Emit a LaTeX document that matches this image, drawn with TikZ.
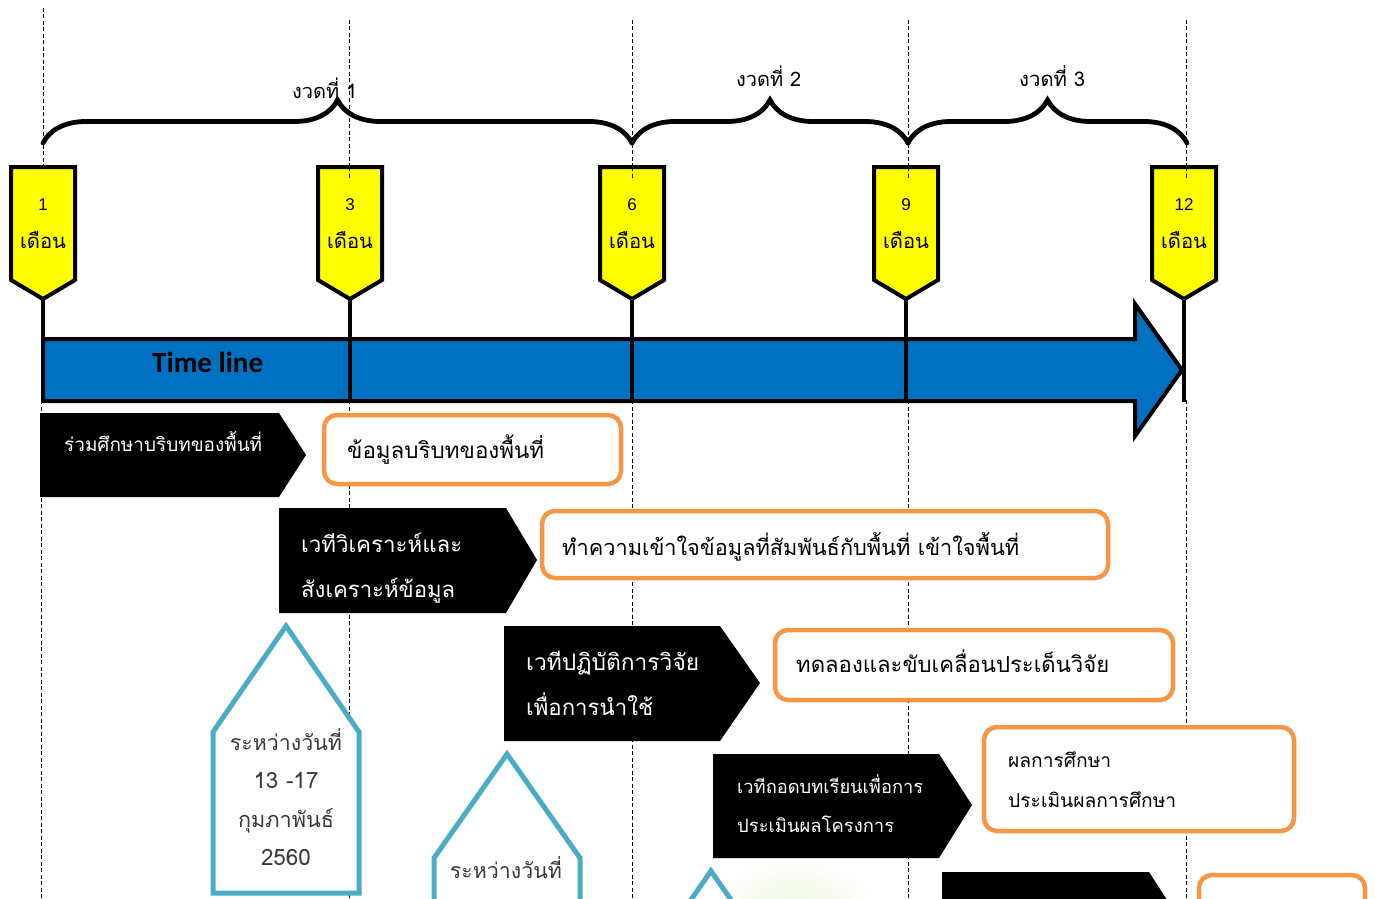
\documentclass[tikz,border=0pt]{standalone}
\usepackage{fontspec}
\usepackage{graphicx}
\setmainfont{Liberation Sans}
\newfontfamily\thai[Script=Thai]{Loma}
\newfontfamily\calib{Carlito}
\usetikzlibrary{decorations.pathreplacing}
\definecolor{tlblue}{HTML}{0070C0}
\definecolor{mkyellow}{HTML}{FFFF00}
\definecolor{boxorange}{HTML}{F79646}
\definecolor{pentblue}{HTML}{4BACC6}
\definecolor{penttext}{HTML}{3A3A3A}
\definecolor{leafgreen}{HTML}{EEF6DC}
% name, coordinate, width, text, colour, anchor
\newcommand\txt[6]{\node[anchor=#6, inner sep=0pt, text=#5] (#1) at (#2) {\resizebox{#3pt}{!}{\thai #4}};}
\newcommand\mkr[3]{%
  \draw[mkbox] (#1-32,167) -- (#1+32,167) -- (#1+32,280) -- (#1,299) -- (#1-32,280) -- cycle;
  \coordinate (#3tip) at (#1,299);
  \node[anchor=base, inner sep=0pt, font=\fontsize{17}{17}\selectfont] (#3num) at (#1,210) {#2};
  \node[anchor=base, inner sep=0pt] (#3lab) at (#1,248) {\resizebox{46pt}{!}{\thai เดือน}};}
\begin{document}
\begin{tikzpicture}[x=1pt,y=-1pt,
  dsh/.style={black, line width=1pt, dash pattern=on 4pt off 2.5pt},
  brc/.style={decorate, decoration={brace, amplitude=43pt}, line width=4.8pt, line cap=round},
  mkbox/.style={draw=black, line width=4pt, fill=mkyellow, line join=miter},
  vline/.style={black, line width=4.5pt},
  chev/.style={fill=black},
  obox/.style={draw=boxorange, line width=4.5pt, fill=white, rounded corners=13pt},
  pent/.style={draw=pentblue, line width=5pt, fill=white, line join=miter}]
\useasboundingbox (0,0) rectangle (1379,899);
\clip (0,0) rectangle (1379,899);
\fill[white] (0,0) rectangle (1379,899);
% faint background picture
\shade[inner color=leafgreen, outer color=white] (795,915) ellipse (85pt and 60pt);
% dashed guide lines
\draw[dsh] (43,8) -- (43,180);
\draw[dsh] (41,400) -- (41,899);
\foreach \x in {349,632,908,1186} {
  \draw[dsh] (\x,20) -- (\x,180);
  \draw[dsh] (\x,400) -- (\x,899);}
% braces
\draw[brc] (43,143) -- (632,143);
\draw[brc] (632,143) -- (908,143);
\draw[brc] (908,143) -- (1187,143);
\txt{g1}{292,98}{65}{งวดที่ 1}{black}{base west}
\txt{g2}{736,86}{65}{งวดที่ 2}{black}{base west}
\txt{g3}{1019,87}{66}{งวดที่ 3}{black}{base west}
% time line arrow
\draw[line width=4pt, fill=tlblue, line join=miter] (43,339) -- (1135,339) -- (1135,304) -- (1182,370) -- (1135,436) -- (1135,401) -- (43,401) -- cycle;
\node[anchor=base west, inner sep=0pt] (tl) at (152,372) {\resizebox{111pt}{!}{\calib\bfseries Time line}};
% markers
\mkr{43}{1}{m1}
\mkr{350}{3}{m3}
\mkr{632}{6}{m6}
\mkr{906}{9}{m9}
\mkr{1184}{12}{m12}
\foreach \x in {349,632,908,1186} \draw[dsh] (\x,167) -- (\x,180);
\coordinate (b1) at (43,402);
\coordinate (b3) at (350,402);
\coordinate (b6) at (632,402);
\coordinate (b9) at (906,402);
\coordinate (b12) at (1184,402);
\foreach \m in {1,3,6,9,12} \draw[vline] (m\m tip) -- (b\m);
% row 1
\fill[chev] (40,413) -- (279,413) -- (306,455) -- (279,497) -- (40,497) -- cycle;
\txt{c1}{64,451}{198}{ร่วมศึกษาบริบทของพื้นที่}{white}{base west}
\draw[obox] (324,415) rectangle (621,484);
\txt{o1}{347,458}{197}{ข้อมูลบริบทของพื้นที่}{black}{base west}
% row 2
\fill[chev] (279,508) -- (506,508) -- (537,560) -- (506,613) -- (279,613) -- cycle;
\txt{c2a}{301,552}{161}{เวทีวิเคราะห์และ}{white}{base west}
\txt{c2b}{301,597}{154}{สังเคราะห์ข้อมูล}{white}{base west}
\draw[obox] (542,511) rectangle (1108,578);
\txt{o2}{562,555}{457}{ทำความเข้าใจข้อมูลที่สัมพันธ์กับพื้นที่ เข้าใจพื้นที่}{black}{base west}
% row 3
\fill[chev] (504,626) -- (720,626) -- (760,683) -- (720,741) -- (504,741) -- cycle;
\txt{c3a}{526,670}{173}{เวทีปฏิบัติการวิจัย}{white}{base west}
\txt{c3b}{526,715}{127}{เพื่อการนำใช้}{white}{base west}
\draw[obox] (775,630) rectangle (1173,700);
\txt{o3}{796,672}{313}{ทดลองและขับเคลื่อนประเด็นวิจัย}{black}{base west}
% row 4
\fill[chev] (713,754) -- (939,754) -- (972,805) -- (939,858) -- (713,858) -- cycle;
\txt{c4a}{737,793}{186}{เวทีถอดบทเรียนเพื่อการ}{white}{base west}
\txt{c4b}{737,832}{157}{ประเมินผลโครงการ}{white}{base west}
\draw[obox] (984,727) rectangle (1294,831);
\txt{o4a}{1008,767}{103}{ผลการศึกษา}{black}{base west}
\txt{o4b}{1008,807}{168}{ประเมินผลการศึกษา}{black}{base west}
% row 5
\fill[chev] (942,872) -- (1149,872) -- (1182,923) -- (1149,976) -- (942,976) -- cycle;
\draw[obox] (1199,875) rectangle (1365,960);
% date pentagons
\draw[pent] (286,626) -- (359,732) -- (359,893) -- (213,893) -- (213,732) -- cycle;
\txt{p1a}{286,750}{112}{ระหว่างวันที่}{penttext}{base}
\txt{p1b}{286,788}{65}{13 -17}{penttext}{base}
\txt{p1c}{286,827}{96}{กุมภาพันธ์}{penttext}{base}
\txt{p1d}{286,865}{50}{2560}{penttext}{base}
\draw[pent] (507,754) -- (580,858) -- (580,1000) -- (434,1000) -- (434,858) -- cycle;
\txt{p2a}{506,878}{112}{ระหว่างวันที่}{penttext}{base}
\draw[pent] (711,871) -- (784,976) -- (784,1100) -- (638,1100) -- (638,976) -- cycle;
\end{tikzpicture}
\end{document}
